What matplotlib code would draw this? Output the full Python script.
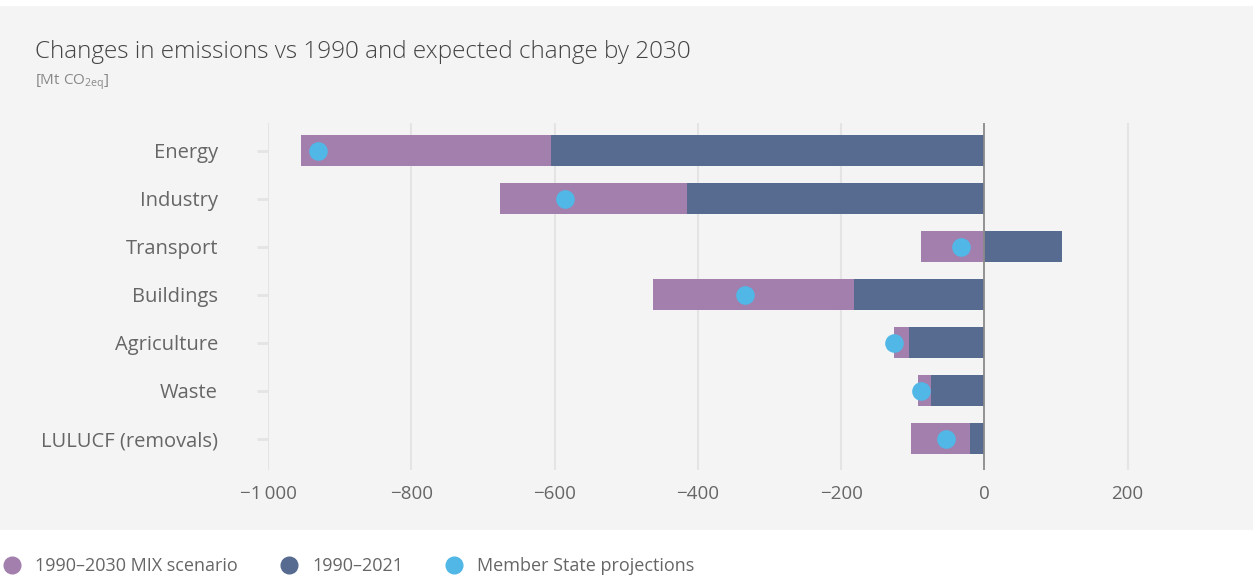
import matplotlib
matplotlib.use("Agg")
import matplotlib.pyplot as plt
from matplotlib.lines import Line2D
from matplotlib.patches import Rectangle

plt.rcParams['font.family'] = ['Open Sans', 'DejaVu Sans']

sectors = ["Energy", "Industry", "Transport", "Buildings", "Agriculture", "Waste", "LULUCF (removals)"]
mix_2030 = [-954, -676, -89, -462, -126, -92, -102]      # 1990-2030 MIX scenario
change_2021 = [-605, -415, 108, -182, -105, -75, -20]    # 1990-2021
ms_proj = [-930, -585, -33, -334, -126, -89, -54]        # Member State projections
xticks = [-1000, -800, -600, -400, -200, 0, 200]
xtick_labels = ["\u22121\u2009000", "\u2212800", "\u2212600", "\u2212400", "\u2212200", "0", "200"]

PURPLE = "#a27fad"
BLUE = "#566b8f"
DOT = "#50b7e6"
BG = "#f4f4f4"
GRID = "#e4e4e4"
TXT = "#666666"

W, H = 1253, 584
fig = plt.figure(figsize=(W / 100, H / 100), dpi=100)
fig.patch.set_facecolor("white")
fig.add_artist(Rectangle((0, (H - 530) / H), 1, (530 - 6) / H, transform=fig.transFigure,
                         facecolor=BG, edgecolor="none", zorder=0))

ax = fig.add_axes([268 / W, 114 / H, (1235 - 268) / W, 347 / H])
ax.set_facecolor(BG)
ax.patch.set_alpha(0)

y = list(range(len(sectors)))
ax.barh(y, mix_2030, height=0.65, color=PURPLE, zorder=2)
ax.barh(y, change_2021, height=0.65, color=BLUE, zorder=3)
ax.scatter(ms_proj, y, s=180, color=DOT, zorder=4, linewidths=0)

ax.set_xlim(-1000, 350)
ax.set_ylim(len(sectors) - 1 + 0.65, -0.58)
ax.set_xticks(xticks)
ax.set_xticklabels(xtick_labels)
ax.set_yticks(y)
ax.set_yticklabels(sectors)

for x in xticks:
    if x != 0:
        ax.axvline(x, color=GRID, lw=1.5, zorder=1)
ax.axvline(0, color="#8a8a8a", lw=1.3, zorder=5)

for s in ax.spines.values():
    s.set_visible(False)
ax.tick_params(axis="x", length=0, pad=11, labelsize=13.5, labelcolor=TXT)
ax.tick_params(axis="y", length=8, width=2, color=GRID, pad=28, labelsize=14.5, labelcolor=TXT)

fig.text(35 / W, 1 - 58 / H, "Changes in emissions vs 1990 and expected change by 2030",
         fontsize=17.5, color="#444444", weight="light")
fig.text(35 / W, 1 - 84 / H, r"[Mt CO$_{\mathregular{2eq}}$]", fontsize=11, color="#888888")

handles = [Line2D([], [], marker="o", ls="", markersize=12, color=c) for c in (PURPLE, BLUE, DOT)]
leg = fig.legend(handles, ["1990\u20132030 MIX scenario", "1990\u20132021", "Member State projections"],
                 loc="center left", bbox_to_anchor=(-0.005, 1 - 566 / H), ncol=3, frameon=False,
                 fontsize=13, handletextpad=0.3, columnspacing=1.8, borderaxespad=0, borderpad=0)
for t in leg.get_texts():
    t.set_color(TXT)

fig.savefig("out.png", dpi=100, facecolor="white")
